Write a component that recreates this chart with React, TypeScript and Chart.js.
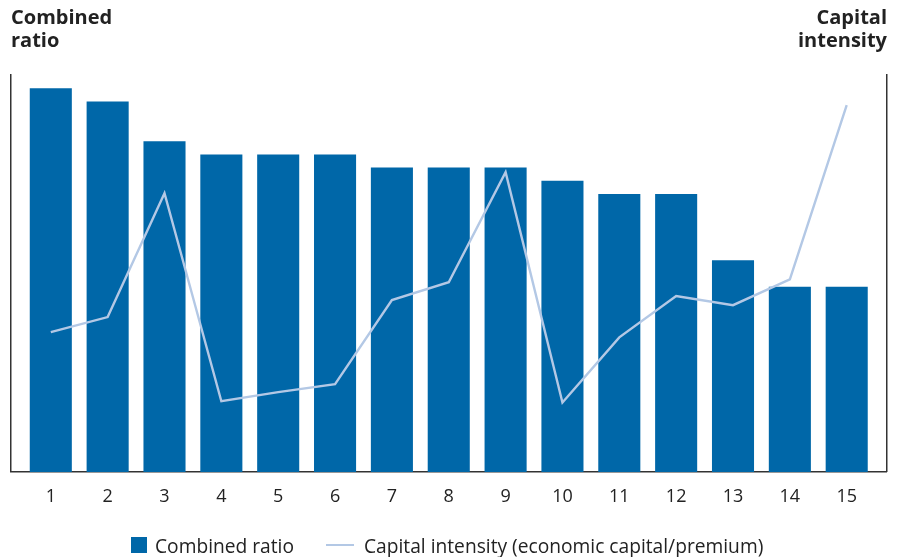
import React, { useEffect, useRef } from "react";
import { Chart, registerables } from "chart.js";

Chart.register(...registerables);

const categories = [1, 2, 3, 4, 5, 6, 7, 8, 9, 10, 11, 12, 13, 14, 15];
const combinedRatio = [99, 98, 95, 94, 94, 94, 93, 93, 93, 92, 91, 91, 86, 84, 84];
const capitalIntensity = [35.2, 39.0, 70.2, 17.8, 20.1, 22.1, 43.3, 47.8, 75.5, 17.5, 33.9, 44.3, 42.0, 48.5, 92.4];
const leftTitle = ["Combined", "ratio"];
const rightTitle = ["Capital", "intensity"];
const barLabel = "Combined ratio";
const lineLabel = "Capital intensity (economic capital/premium)";

const FONT = "'Open Sans', 'Noto Sans', sans-serif";
const BAR_COLOR = "#0067a8";
const LINE_COLOR = "#b3c8e5";
const AXIS_COLOR = "#333333";
const TEXT_COLOR = "#222222";

export default function App() {
  const canvasRef = useRef<HTMLCanvasElement | null>(null);

  useEffect(() => {
    const canvas = canvasRef.current;
    if (!canvas) return;
    const chart = new Chart(canvas, {
      type: "bar",
      data: {
        datasets: [
          {
            type: "line",
            label: lineLabel,
            data: categories.map((c, i) => ({ x: c, y: capitalIntensity[i] })),
            borderColor: LINE_COLOR,
            borderWidth: 2.4,
            pointRadius: 0,
            tension: 0,
            yAxisID: "y1",
            order: 0,
          } as any,
          {
            type: "bar",
            label: barLabel,
            data: categories.map((c, i) => ({ x: c, y: combinedRatio[i] })),
            backgroundColor: BAR_COLOR,
            borderWidth: 0,
            barPercentage: 0.74,
            categoryPercentage: 1,
            yAxisID: "y",
            order: 1,
          } as any,
        ],
      },
      options: {
        responsive: false,
        animation: false,
        layout: { padding: { left: 11, right: 11.5, top: 75, bottom: 35.5 } },
        plugins: { legend: { display: false }, tooltip: { enabled: false } },
        scales: {
          x: {
            type: "linear",
            offset: false,
            min: 0.3,
            max: 15.7,
            afterBuildTicks: (scale: any) => {
              scale.ticks = categories.map((v) => ({ value: v }));
            },
            ticks: {
              font: { family: FONT, size: 18 },
              color: TEXT_COLOR,
              padding: 14,
              maxRotation: 0,
              autoSkip: false,
              callback: (v: any) => String(v),
            },
            grid: { display: false, drawTicks: false },
            border: { display: true, color: AXIS_COLOR, width: 1.5 },
          },
          y: {
            position: "left",
            min: 70,
            max: 100,
            ticks: { display: false },
            grid: { display: false, drawTicks: false },
            border: { display: true, color: AXIS_COLOR, width: 1.5 },
          },
          y1: {
            position: "right",
            min: 0,
            max: 100,
            ticks: { display: false },
            grid: { display: false, drawTicks: false },
            border: { display: true, color: AXIS_COLOR, width: 1.5 },
          },
        },
      } as any,
    });
    return () => chart.destroy();
  }, []);

  const titleStyle: React.CSSProperties = {
    position: "absolute",
    top: 5,
    fontFamily: FONT,
    fontWeight: 700,
    fontSize: 20,
    lineHeight: "23px",
    color: TEXT_COLOR,
  };
  const legendText: React.CSSProperties = {
    fontFamily: FONT,
    fontSize: 19.2,
    color: TEXT_COLOR,
    whiteSpace: "nowrap",
  };

  return (
    <div style={{ position: "fixed", left: 0, top: 0, width: 898, height: 557, background: "#fff" }}>
      <canvas ref={canvasRef} width={898} height={557} style={{ position: "absolute", left: 0, top: 0 }} />
      <div style={{ ...titleStyle, left: 11, textAlign: "left" }}>
        {leftTitle[0]}
        <br />
        {leftTitle[1]}
      </div>
      <div style={{ ...titleStyle, right: 11, textAlign: "right" }}>
        {rightTitle[0]}
        <br />
        {rightTitle[1]}
      </div>
      <div style={{ position: "absolute", left: 131, top: 533, height: 24, display: "flex", alignItems: "center" }}>
        <span style={{ display: "inline-block", width: 16, height: 16, background: BAR_COLOR, marginRight: 8 }} />
        <span style={legendText}>{barLabel}</span>
      </div>
      <div style={{ position: "absolute", left: 326, top: 533, height: 24, display: "flex", alignItems: "center" }}>
        <span style={{ display: "inline-block", width: 28, height: 2, background: LINE_COLOR, marginRight: 10 }} />
        <span style={legendText}>{lineLabel}</span>
      </div>
    </div>
  );
}
